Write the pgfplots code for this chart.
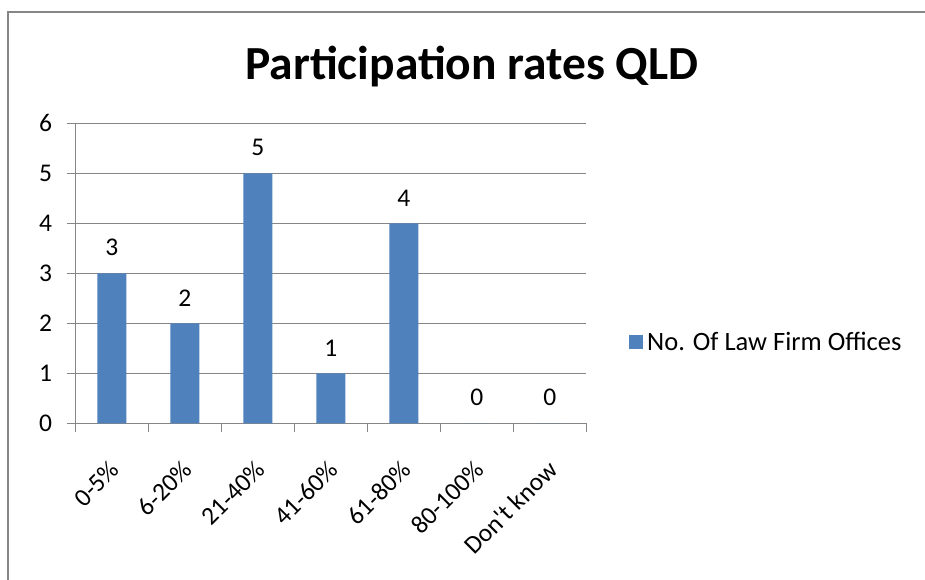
\documentclass[border=0pt]{standalone}
\usepackage{fontspec}
\setmainfont{Carlito}
\usepackage{pgfplots}
\pgfplotsset{compat=1.18}
\definecolor{barblue}{HTML}{4F81BD}
\definecolor{gridgray}{HTML}{868686}
\newcommand{\lblfont}{\fontsize{25.5}{30}\selectfont}
\newcommand{\legfont}{\fontsize{26.5}{30}\selectfont}
\begin{document}
\begin{tikzpicture}[x=1pt,y=1pt]
\useasboundingbox (0,0) rectangle (925,-580);
\fill[white] (0,0) rectangle (925,-580);
\draw[gridgray, line width=1.8pt] (925,-12.3) -- (8.3,-12.3) -- (8.3,-580);
\node[font=\fontsize{47.5}{52}\selectfont\bfseries, anchor=base, inner sep=0pt] at (472,-80) {Participation rates QLD};
\begin{axis}[
  at={(75.3pt,-423.3pt)}, anchor=south west,
  scale only axis, width=511pt, height=300pt,
  xmin=-0.5, xmax=6.5, ymin=0, ymax=6,
  axis lines=left,
  axis line style={-, gridgray, line width=1pt},
  ytick={0,...,6},
  xtick={0,...,6},
  xticklabels={0-5\%,6-20\%,21-40\%,41-60\%,61-80\%,80-100\%,Don\textquotesingle t know},
  minor xtick={-0.5,0.5,...,6.5},
  tick align=outside,
  major tick length=8pt, minor tick length=9pt,
  major x tick style={draw=none},
  minor x tick style={gridgray, line width=1pt},
  major y tick style={gridgray, line width=1pt},
  ymajorgrids,
  major y grid style={gridgray, line width=1pt},
  /pgf/number format/assume math mode=true,
  yticklabel style={font=\lblfont, inner sep=0pt, anchor=east, xshift=-15pt},
  xticklabel style={font=\lblfont, inner sep=0pt, rotate=45, anchor=north east, xshift=-21.8pt, yshift=-17pt},
  ybar, bar width=29pt,
  nodes near coords,
  every node near coord/.append style={font=\lblfont, inner sep=0pt, anchor=south, yshift=17pt, color=black},
  legend style={at={(1.0777,0.271)}, anchor=west, draw=none, fill=none, font=\legfont},
  legend cell align=left,
]
\addplot[fill=barblue, draw=none, legend image code/.code={\fill[barblue] (0pt,-7pt) rectangle (14pt,7pt); \path (0pt,0pt) -- (16pt,0pt);}]
  coordinates {(0,3) (1,2) (2,5) (3,1) (4,4) (5,0) (6,0)};
\addlegendentry{No. Of Law Firm Offices}
\end{axis}
\end{tikzpicture}
\end{document}
